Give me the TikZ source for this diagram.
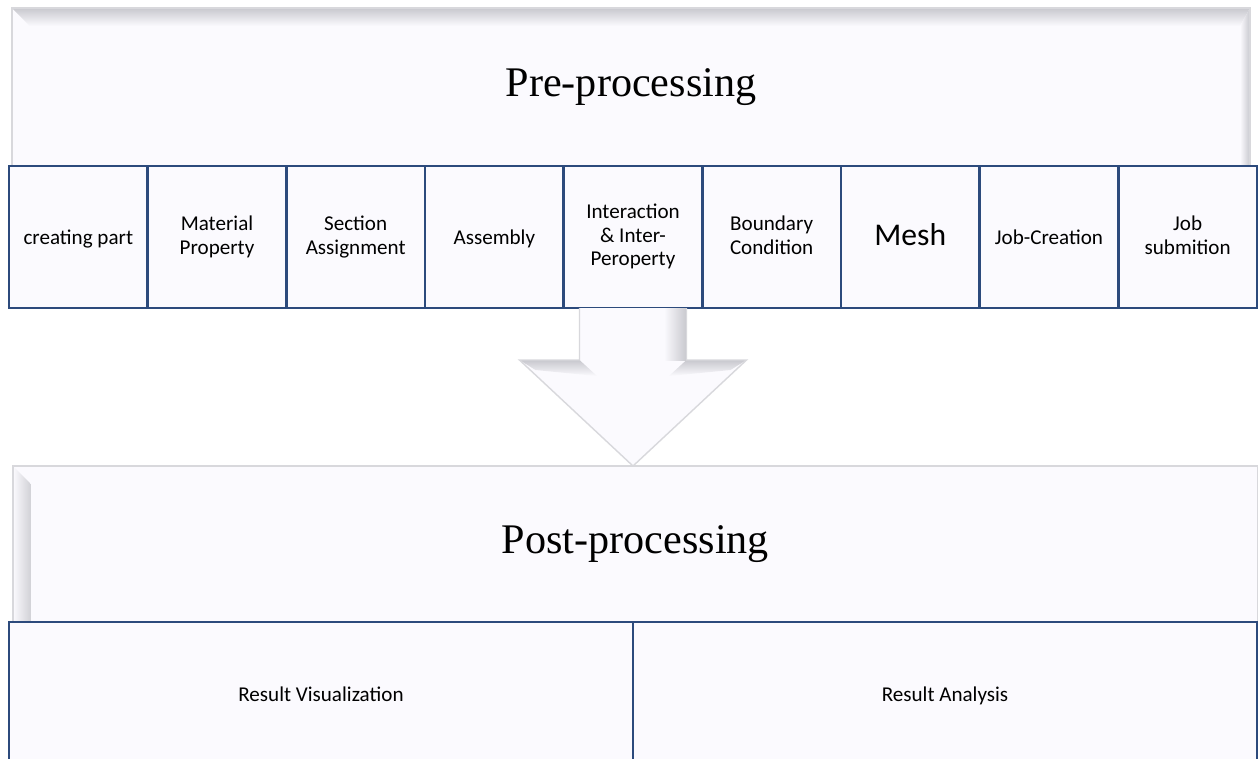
\documentclass[tikz,border=0pt]{standalone}
\usepackage{fontspec}
\newfontfamily\stepfont{Carlito}
\newfontfamily\headfont{Liberation Serif}
\usetikzlibrary{
  positioning,
  calc
}
\definecolor{feEdge}{HTML}{2C4A7C}
\definecolor{feFill}{HTML}{FBFAFE}
\definecolor{feBevel}{HTML}{C8C8CE}
\definecolor{feLine}{HTML}{D8D8DC}
\newcommand\festrut{\rule[-2.35pt]{0pt}{13.5pt}}
\tikzset{
  stepbox/.style={
    draw=feEdge, fill=feFill, line width=1.6pt, outer sep=0pt, inner sep=2pt,
    minimum width=2.7733cm, minimum height=2.84cm, align=center,
    font=\stepfont\fontsize{12}{13.5}\selectfont,
    execute at begin node=\festrut, execute at end node=\festrut
  },
  resultbox/.style={stepbox, minimum width=12.48cm, minimum height=2.88cm},
  headbox/.style={
    draw=feLine, fill=feFill, line width=0.8pt, outer sep=0pt,
    font=\headfont\fontsize{24}{28}\selectfont
  },
  headline/.style={draw=feLine, line width=0.8pt},
  blockarrow/.style={fill=feFill},
  arrowline/.style={draw=feLine, line width=0.8pt, line join=miter}
}

\begin{document}
\begin{tikzpicture}
  \clip (0,0) rectangle (25.16,-15.18);
  \fill[white] (0,0) rectangle (25.16,-15.18);
  % pre-processing stage
  \node[headbox, minimum width=24.76cm, minimum height=3.16cm, anchor=north west] (pre) at (0.24,-0.16) {Pre-processing};
  \shade[top color=feBevel, bottom color=feFill] (pre.north west) -- (pre.north east) -- ($(pre.north east)+(-0.2,-0.36)$) -- ($(pre.north west)+(0.36,-0.36)$) -- cycle;
  \shade[left color=feFill, right color=feBevel] (pre.north east) -- ($(pre.north east)+(-0.2,-0.36)$) -- ($(pre.south east)+(-0.2,0)$) -- (pre.south east) -- cycle;
  \draw[headline] (pre.north west) rectangle (pre.south east);
  \node[stepbox, anchor=north west] (part) at (0.18,-3.32) {creating part};
  \node[stepbox, right=0pt of part] (mat) {Material\\Property};
  \node[stepbox, right=0pt of mat] (sec) {Section\\Assignment};
  \node[stepbox, right=0pt of sec] (asm) {Assembly};
  \node[stepbox, right=0pt of asm] (inter) {Interaction\\\& Inter-\\Peroperty};
  \node[stepbox, right=0pt of inter] (bc) {Boundary\\Condition};
  \node[stepbox, right=0pt of bc, font=\stepfont\fontsize{18}{20}\selectfont] (mesh) {Mesh};
  \node[stepbox, right=0pt of mesh] (job) {Job-Creation};
  \node[stepbox, right=0pt of job] (sub) {Job\\submition};
  % post-processing stage
  \node[headbox, minimum width=24.9cm, minimum height=3.14cm, anchor=north west] (post) at (0.26,-9.32) {Post-processing};
  \shade[left color=feFill, right color=feBevel!85] (post.north west) -- ($(post.north west)+(0.36,-0.36)$) -- ($(post.south west)+(0.36,0)$) -- (post.south west) -- cycle;
  \draw[headline] (post.north west) rectangle (post.south east);
  \node[resultbox, anchor=north west] (vis) at (0.18,-12.44) {Result Visualization};
  \node[resultbox, right=0pt of vis] (ana) {Result Analysis};
  % block arrow between the stages
  \coordinate (tip) at (post.north -| inter.south);
  \fill[blockarrow] ($(inter.south)+(-1.07,0)$) -- ($(inter.south)+(1.07,0)$) -- ($(inter.south)+(1.07,-1.04)$) -- ($(inter.south)+(2.27,-1.04)$) -- (tip) -- ($(inter.south)+(-2.27,-1.04)$) -- ($(inter.south)+(-1.07,-1.04)$) -- cycle;
  \shade[left color=feFill, right color=feBevel] ($(inter.south)+(0.62,0)$) rectangle ($(inter.south)+(1.07,-1.04)$);
  \shade[top color=feBevel, bottom color=feFill] ($(inter.south)+(-2.27,-1.04)$) -- ($(inter.south)+(-1.07,-1.04)$) -- ($(inter.south)+(-0.72,-1.36)$) -- ($(inter.south)+(-1.95,-1.24)$) -- cycle;
  \shade[top color=feBevel, bottom color=feFill] ($(inter.south)+(1.07,-1.04)$) -- ($(inter.south)+(2.27,-1.04)$) -- ($(inter.south)+(1.95,-1.24)$) -- ($(inter.south)+(0.72,-1.36)$) -- cycle;
  \draw[arrowline] ($(inter.south)+(1.07,0)$) -- ($(inter.south)+(1.07,-1.04)$) -- ($(inter.south)+(2.27,-1.04)$) -- (tip) -- ($(inter.south)+(-2.27,-1.04)$) -- ($(inter.south)+(-1.07,-1.04)$) -- ($(inter.south)+(-1.07,0)$);
\end{tikzpicture}
\end{document}
